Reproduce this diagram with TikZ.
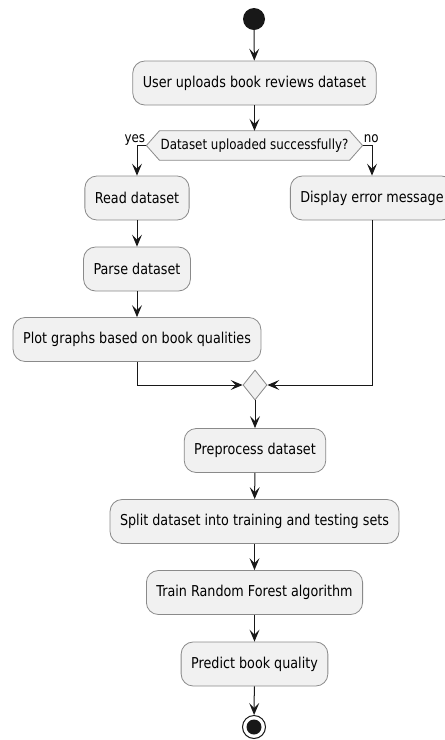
\documentclass[tikz,border=0pt]{standalone}
\usepackage{fontspec}
\setmainfont{DejaVu Sans}[FakeStretch=0.85]
\usetikzlibrary{arrows.meta,calc,shapes.geometric,backgrounds}
\definecolor{actfill}{HTML}{F1F1F1}
\definecolor{actline}{HTML}{8A8A8A}
\definecolor{flow}{HTML}{181818}

\begin{document}
\begin{tikzpicture}[
    x=1pt, y=-1pt,
    font=\fontsize{15}{17}\selectfont,
    act/.style={rectangle, rounded corners=12pt, minimum height=44pt,
      inner xsep=10pt, fill=actfill, draw=actline, line width=0.8pt},
    cond/.style={rectangle, minimum height=29pt, inner xsep=1pt,
      font=\fontsize{14}{16}\selectfont},
    lbl/.style={inner sep=0pt, font=\fontsize{14}{16}\selectfont},
    flowline/.style={flow, line width=1pt,
      -{Stealth[length=12pt, width=10pt, inset=5pt]}}
  ]

  \useasboundingbox (0,0) rectangle (445,740);

  % start and first activity
  \node (start)   [circle, fill=flow, minimum size=22pt, inner sep=0pt] at (254,19) {};
  \node (upload)  [act] at (254.5,83)  {User uploads book reviews dataset};

  % the decision
  \node (dec)     [cond] at (254.5,145.5) {Dataset uploaded successfully?};
  \coordinate (decL) at ($(dec.west)+(-13,0)$);
  \coordinate (decR) at ($(dec.east)+(13,0)$);
  \begin{scope}[on background layer]
    \draw[fill=actfill, draw=actline, line width=0.8pt]
      (dec.north west) -- (dec.north east) -- (decR) -- (dec.south east)
      -- (dec.south west) -- (decL) -- cycle;
  \end{scope}
  \node (yes)     [lbl, anchor=base east] at ($(decL)+(-1,-3)$) {yes};
  \node (no)      [lbl, anchor=base west] at ($(decR)+(1,-3)$)  {no};

  % the two branches
  \node (read)    [act] at (137,198)   {Read dataset};
  \node (parse)   [act] at (137,269)   {Parse dataset};
  \node (plot)    [act] at (137,339.5) {Plot graphs based on book qualities};
  \node (error)   [act] at (372,198)   {Display error message};

  % merge and the rest of the flow
  \node (merge)   [diamond, fill=actfill, draw=actline, line width=0.8pt,
                   minimum width=24pt, minimum height=30pt, inner sep=0pt] at (255,385) {};
  \node (prep)    [act] at (255,450.5)   {Preprocess dataset};
  \node (split)   [act] at (254.5,521.5) {Split dataset into training and testing sets};
  \node (train)   [act] at (254.5,592.5) {Train Random Forest algorithm};
  \node (predict) [act] at (254.5,664)   {Predict book quality};
  \node (stop)    [circle, draw=flow, fill=white, line width=1pt,
                   minimum size=23pt, inner sep=0pt] at (254,727) {};
  \node (stopdot) [circle, fill=flow, minimum size=15pt, inner sep=0pt] at (stop) {};

  \draw[flowline] (start)   -- (upload);
  \draw[flowline] (upload)  -- (dec);
  \draw[flowline] (decL)    -| (read);
  \draw[flowline] (decR)    -| (error);
  \draw[flowline] (read)    -- (parse);
  \draw[flowline] (parse)   -- (plot);
  \draw[flowline] (plot)    |- (merge);
  \draw[flowline] (error)   |- (merge);
  \draw[flowline] (merge)   -- (prep);
  \draw[flowline] (prep)    -- (split);
  \draw[flowline] (split)   -- (train);
  \draw[flowline] (train)   -- (predict);
  \draw[flowline] (predict) -- (stop);

\end{tikzpicture}
\end{document}
